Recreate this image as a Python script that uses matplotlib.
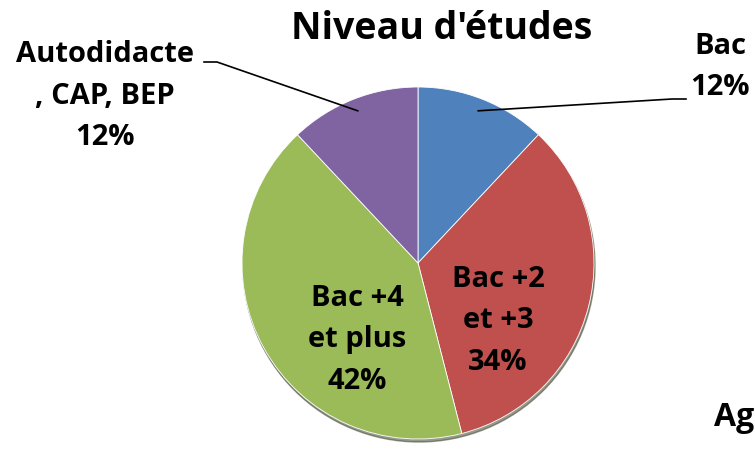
import numpy as np
import matplotlib
matplotlib.use("Agg")
import matplotlib.pyplot as plt

# data
labels = ["Bac", "Bac +2\net +3", "Bac +4\net plus", "Autodidacte\n, CAP, BEP"]
values = [12, 34, 42, 12]
colors = ["#4F81BD", "#C0504D", "#9BBB59", "#8064A2"]

plt.rcParams['font.family'] = ['Open Sans', 'DejaVu Sans']

W, H = 755, 449
fig = plt.figure(figsize=(W / 100, H / 100), dpi=100)
ax = fig.add_axes([0, 0, 1, 1])

cx, cy, r = 418, 449 - 263, 176

# soft shadow under the pie
ax.add_patch(plt.Circle((cx + 1, cy - 3), r, color='#404830', alpha=0.55, zorder=0))

wedges, _ = ax.pie(values, colors=colors, startangle=90, counterclock=False,
                   center=(cx, cy), radius=r, frame=True,
                   wedgeprops=dict(edgecolor='white', linewidth=0.6))
ax.set_xlim(0, W)
ax.set_ylim(0, H)
ax.set_aspect('equal')
ax.axis('off')

ax.text(442, 449 - 29, "Niveau d'études", ha='center', va='center',
        fontsize=27, fontweight='bold')

fs = 21
ls = 1.55
# inside labels
ax.text(498, 449 - 321, f"{labels[1]}\n{values[1]}%", ha='center', va='center',
        fontsize=fs, fontweight='bold', linespacing=ls)
ax.text(357, 449 - 340, f"{labels[2]}\n{values[2]}%", ha='center', va='center',
        fontsize=fs, fontweight='bold', linespacing=ls)

# outside labels with leaders
def anchor(w):
    a = np.deg2rad((w.theta1 + w.theta2) / 2)
    return cx + 0.93 * r * np.cos(a), cy + 0.93 * r * np.sin(a)

x0, y0 = anchor(wedges[0])
ax.plot([x0, 672, 686], [y0, 449 - 99, 449 - 99], color='black', lw=1.2)
ax.text(720, 449 - 67, f"{labels[0]}\n{values[0]}%", ha='center', va='center',
        fontsize=fs, fontweight='bold', linespacing=ls)

x3, y3 = anchor(wedges[3])
ax.plot([x3, 217, 204], [y3, 449 - 62, 449 - 62], color='black', lw=1.2)
ax.text(105, 449 - 96, f"{labels[3]}\n{values[3]}%", ha='center', va='center',
        fontsize=fs, fontweight='bold', linespacing=ls)

# next chart title, cut at the edge in the source
ax.text(714, 449 - 418, "Ag", ha='left', va='center', fontsize=23, fontweight='bold')

fig.savefig('out.png', dpi=100)
